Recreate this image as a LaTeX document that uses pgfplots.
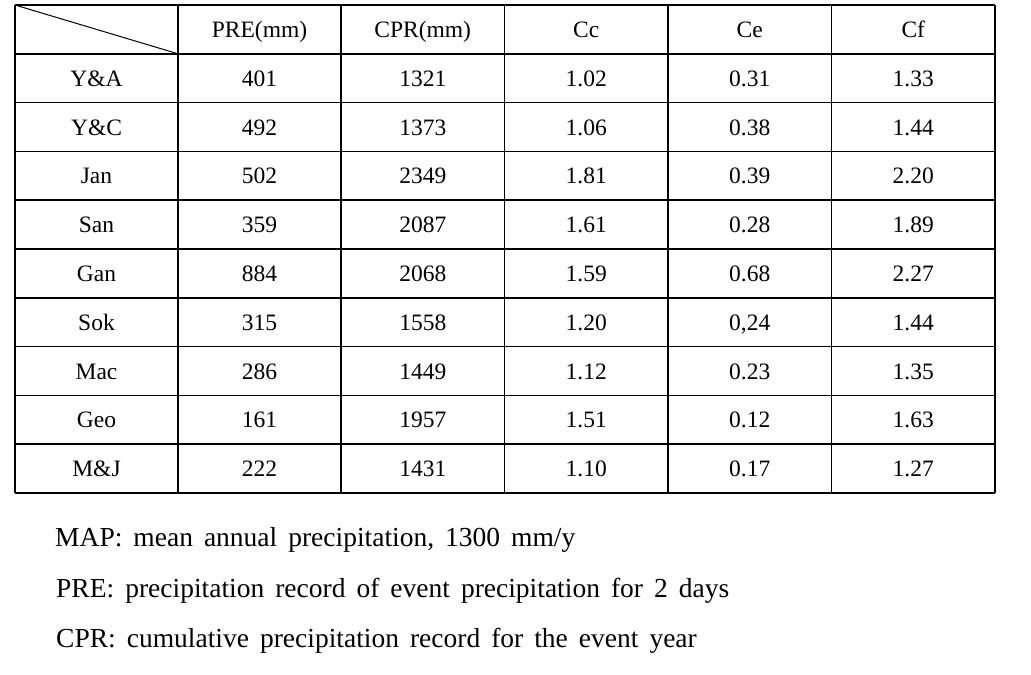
\documentclass[border=0pt]{standalone}
\usepackage{fontspec}
\setmainfont{Liberation Serif}
\newfontfamily\notefont[WordSpace=1.6]{Liberation Serif}
\usepackage{pgfplots}
\pgfplotsset{compat=1.18}
\begin{document}
\begin{tikzpicture}
\begin{axis}[
  scale only axis, width=1031bp, height=674bp,
  xmin=0, xmax=1031, ymin=0, ymax=674, y dir=reverse,
  axis lines=none, xtick=\empty, ytick=\empty,
  clip=false,
  unbounded coords=jump,
  cell/.style={draw=none, mark=none, nodes near coords, point meta=explicit symbolic,
    every node near coord/.append style={anchor=base, inner sep=0pt, text=black,
      font=\fontsize{23.5bp}{28bp}\selectfont}},
  note/.style={draw=none, mark=none, nodes near coords, point meta=explicit symbolic,
    every node near coord/.append style={anchor=base west, inner sep=0pt, text=black,
      font=\notefont\fontsize{27.5bp}{32bp}\selectfont}},
]
% table rules
\addplot[black, line width=1.6bp] coordinates {
  (15,5) (995,5) (nan,nan)
  (15,53.8) (995,53.8) (nan,nan)
  (15,102.6) (995,102.6) (nan,nan)
  (15,151.4) (995,151.4) (nan,nan)
  (15,200.2) (995,200.2) (nan,nan)
  (15,249) (995,249) (nan,nan)
  (15,297.8) (995,297.8) (nan,nan)
  (15,346.6) (995,346.6) (nan,nan)
  (15,395.4) (995,395.4) (nan,nan)
  (15,444.2) (995,444.2) (nan,nan)
  (15,493) (995,493) (nan,nan)
  (15,5) (15,493) (nan,nan)
  (178,5) (178,493) (nan,nan)
  (341,5) (341,493) (nan,nan)
  (504.5,5) (504.5,493) (nan,nan)
  (668,5) (668,493) (nan,nan)
  (831.5,5) (831.5,493) (nan,nan)
  (995,5) (995,493)
};
\addplot[black, line width=1bp] coordinates {(15,5) (178,53.8)};
% header
\addplot[cell] coordinates {
  (259.5,37.4) [PRE(mm)]
  (422.75,37.4) [CPR(mm)]
  (586.25,37.4) [Cc]
  (749.75,37.4) [Ce]
  (913.25,37.4) [Cf]
};
% station names
\addplot[cell] coordinates {
  (96.5,86.2) [Y\&A]
  (96.5,135) [Y\&C]
  (96.5,183.8) [Jan]
  (96.5,232.6) [San]
  (96.5,281.4) [Gan]
  (96.5,330.2) [Sok]
  (96.5,379) [Mac]
  (96.5,427.8) [Geo]
  (96.5,476.6) [M\&J]
};
% PRE(mm)
\addplot[cell] coordinates {
  (259.5,86.2) [401]
  (259.5,135) [492]
  (259.5,183.8) [502]
  (259.5,232.6) [359]
  (259.5,281.4) [884]
  (259.5,330.2) [315]
  (259.5,379) [286]
  (259.5,427.8) [161]
  (259.5,476.6) [222]
};
% CPR(mm)
\addplot[cell] coordinates {
  (422.75,86.2) [1321]
  (422.75,135) [1373]
  (422.75,183.8) [2349]
  (422.75,232.6) [2087]
  (422.75,281.4) [2068]
  (422.75,330.2) [1558]
  (422.75,379) [1449]
  (422.75,427.8) [1957]
  (422.75,476.6) [1431]
};
% Cc
\addplot[cell] coordinates {
  (586.25,86.2) [1.02]
  (586.25,135) [1.06]
  (586.25,183.8) [1.81]
  (586.25,232.6) [1.61]
  (586.25,281.4) [1.59]
  (586.25,330.2) [1.20]
  (586.25,379) [1.12]
  (586.25,427.8) [1.51]
  (586.25,476.6) [1.10]
};
% Ce
\addplot[cell] coordinates {
  (749.75,86.2) [0.31]
  (749.75,135) [0.38]
  (749.75,183.8) [0.39]
  (749.75,232.6) [0.28]
  (749.75,281.4) [0.68]
  (749.75,330.2) [{0,24}]
  (749.75,379) [0.23]
  (749.75,427.8) [0.12]
  (749.75,476.6) [0.17]
};
% Cf
\addplot[cell] coordinates {
  (913.25,86.2) [1.33]
  (913.25,135) [1.44]
  (913.25,183.8) [2.20]
  (913.25,232.6) [1.89]
  (913.25,281.4) [2.27]
  (913.25,330.2) [1.44]
  (913.25,379) [1.35]
  (913.25,427.8) [1.63]
  (913.25,476.6) [1.27]
};
% notes
\addplot[note] coordinates {
  (55,546) [MAP: mean annual precipitation, 1300 mm/y]
  (56,597) [PRE: precipitation record of event precipitation for 2 days]
  (56,647) [CPR: cumulative precipitation record for the event year]
};
\end{axis}
\pgfresetboundingbox
\path (current axis.south west) rectangle (current axis.north east);
\end{tikzpicture}
\end{document}
